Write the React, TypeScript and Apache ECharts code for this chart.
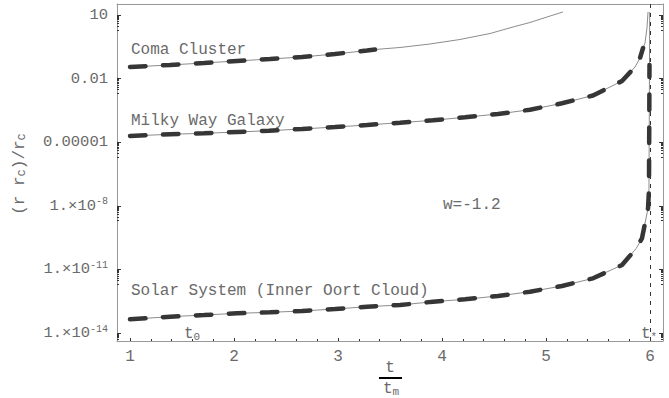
import React, { useEffect, useRef } from 'react';
import * as echarts from 'echarts';

// ---- data ----
const comaX = [1.0, 1.385, 1.712, 2.029, 2.346, 2.654, 2.971, 3.279, 3.356, 3.596, 3.885, 4.173, 4.462, 4.683, 4.846, 5.01, 5.163];
const comaY = [0.0352, 0.0439, 0.0545, 0.0677, 0.0841, 0.1045, 0.1445, 0.211, 0.236, 0.293, 0.429, 0.699, 1.34, 2.72, 4.43, 8.05, 13.9];
const comaDashedCount = 9;

const milkyX = [1.0, 1.385, 1.712, 2.029, 2.337, 2.654, 2.971, 3.279, 3.596, 3.913, 4.221, 4.538, 4.846, 5.154, 5.452, 5.731, 5.856, 5.904, 5.933, 5.952, 5.971, 5.981];
const milkyY = [1.96e-5, 2.36e-5, 2.63e-5, 3.03e-5, 3.48e-5, 4.2e-5, 5.21e-5, 6.48e-5, 8.32e-5, 1.08e-4, 1.5e-4, 2.14e-4, 3.41e-4, 6.84e-4, 1.6e-3, 7.71e-3, 0.0352, 0.0938, 0.277, 0.478, 2.44, 13.9];
const milkyDashedCount = 19;

const solarX = [1.0, 1.385, 1.712, 2.029, 2.346, 2.654, 2.971, 3.279, 3.596, 3.913, 4.221, 4.538, 4.846, 5.154, 5.452, 5.731, 5.868, 5.923, 5.981, 5.99, 5.993, 5.995, 5.997];
const solarY = [4.43e-14, 5.87e-14, 7.06e-14, 8.49e-14, 9.46e-14, 1.09e-13, 1.36e-13, 1.74e-13, 2.09e-13, 2.99e-13, 3.89e-13, 5.56e-13, 8.87e-13, 1.65e-12, 3.8e-12, 1.61e-11, 9.9e-11, 2.93e-10, 7.62e-9, 5.56e-8, 1.11e-4, 0.0439, 13.9];
const solarDashedCount = 22;

const tStar = 6.0;

// ---- axes ----
const xRange = [0.875, 6.125];
const yRange = [4.2e-15, 33];
const xTickValues = [1, 2, 3, 4, 5, 6];
const xTickLabels = ['1', '2', '3', '4', '5', '6'];
const xMinorTicks = [1, 1.2, 1.4, 1.6, 1.8, 2, 2.2, 2.4, 2.6, 2.8, 3, 3.2, 3.4, 3.6, 3.8, 4, 4.2, 4.4, 4.6, 4.8, 5, 5.2, 5.4, 5.6, 5.8, 6];
const yTickValues = [1e-14, 1e-11, 1e-8, 1e-5, 0.01, 10];
const yTickLabels = ['1.×10{sup|-14}', '1.×10{sup|-11}', '1.×10{sup|-8}', '0.00001', '0.01', '10'];
const yMinorMultipliers = [2, 3, 4, 5, 6, 7, 8, 9];

const FONT = "'Liberation Mono', 'DejaVu Sans Mono', monospace";
const TXT = '#6a6a6a';

export default function App() {
  const ref = useRef<HTMLDivElement>(null);
  useEffect(() => {
    const chart = echarts.init(ref.current!, null, { renderer: 'svg' });
    const pairs = (xs: number[], ys: number[], n?: number) =>
      xs.slice(0, n ?? xs.length).map((x, i) => [x, ys[i]]);
    const yMinor = yTickValues.flatMap((v) => yMinorMultipliers.map((m) => (m * v) / 10));
    const thin = (name: string, data: number[][]) => ({
      type: 'line', name, data, symbol: 'none', silent: true, z: 2,
      lineStyle: { color: '#8c8c8c', width: 1 },
    });
    const thick = (name: string, data: number[][]) => ({
      type: 'line', name, data, symbol: 'none', silent: true, z: 3,
      lineStyle: { color: '#363636', width: 4.5, type: [15.5, 17.5], cap: 'round' },
    });
    const yLabel = (v: number) => {
      let best = 0;
      let d = Infinity;
      yTickValues.forEach((t, i) => {
        const dd = Math.abs(Math.log10(v) - Math.log10(t));
        if (dd < d) { d = dd; best = i; }
      });
      return yTickLabels[best];
    };
    const baseY = {
      type: 'log', logBase: 10, min: yRange[0], max: yRange[1],
      splitLine: { show: false }, minorTick: { show: false },
    };
    const baseX = {
      type: 'value', min: xRange[0], max: xRange[1], splitLine: { show: false },
    };
    chart.setOption({
      animation: false,
      grid: { left: 117, top: 4, right: 6, bottom: 57, containLabel: false },
      xAxis: [
        {
          ...baseX, position: 'bottom',
          axisLine: { show: true, onZero: false, lineStyle: { color: '#999', width: 1 } },
          axisTick: { show: true, inside: true, length: 3, customValues: xTickValues, lineStyle: { color: '#333' } },
          axisLabel: {
            customValues: xTickValues, color: TXT, fontFamily: FONT, fontSize: 16, margin: 8,
            formatter: (v: number) => xTickLabels[xTickValues.indexOf(Math.round(v))] ?? '',
          },
        },
        {
          ...baseX, position: 'bottom',
          axisLine: { show: false, onZero: false },
          axisTick: { show: true, inside: true, length: 2, customValues: xMinorTicks, lineStyle: { color: '#333' } },
          axisLabel: { show: false },
        },
        {
          ...baseX, position: 'top',
          axisLine: { show: true, onZero: false, lineStyle: { color: '#999', width: 1 } },
          axisTick: { show: false }, axisLabel: { show: false },
        },
      ],
      yAxis: [
        {
          ...baseY, position: 'left',
          axisLine: { show: true, lineStyle: { color: '#999', width: 1 } },
          axisTick: { show: true, inside: true, length: 4, customValues: yTickValues, lineStyle: { color: '#333' } },
          axisLabel: {
            customValues: yTickValues, color: TXT, fontFamily: FONT, fontSize: 15.5, margin: 9,
            lineHeight: 18, formatter: yLabel,
            rich: { sup: { fontSize: 10, fontFamily: FONT, color: TXT, verticalAlign: 'top', lineHeight: 10 } },
          },
        },
        {
          ...baseY, position: 'left',
          axisLine: { show: false },
          axisTick: { show: true, inside: true, length: 2, customValues: yMinor, lineStyle: { color: '#333' } },
          axisLabel: { show: false },
        },
        {
          ...baseY, position: 'right',
          axisLine: { show: true, lineStyle: { color: '#999', width: 1 } },
          axisTick: { show: true, inside: true, length: 4, customValues: yTickValues, lineStyle: { color: '#333' } },
          axisLabel: { show: false },
        },
        {
          ...baseY, position: 'right',
          axisLine: { show: false },
          axisTick: { show: true, inside: true, length: 2, customValues: yMinor, lineStyle: { color: '#333' } },
          axisLabel: { show: false },
        },
      ],
      series: [
        {
          ...thin('Coma Cluster', pairs(comaX, comaY)),
          markLine: {
            silent: true, symbol: 'none', label: { show: false },
            lineStyle: { color: '#333', width: 1, type: [4, 5] },
            data: [{ xAxis: tStar }],
          },
        },
        thin('Milky Way Galaxy', pairs(milkyX, milkyY)),
        thin('Solar System', pairs(solarX, solarY)),
        thick('Coma Cluster dashed', pairs(comaX, comaY, comaDashedCount)),
        thick('Milky Way Galaxy dashed', pairs(milkyX, milkyY, milkyDashedCount)),
        thick('Solar System dashed', pairs(solarX, solarY, solarDashedCount)),
      ],
      graphic: [
        { type: 'text', x: 131, y: 50, style: { text: 'Coma Cluster', fontFamily: FONT, fontSize: 16, fill: TXT, verticalAlign: 'middle' } },
        { type: 'text', x: 131, y: 121, style: { text: 'Milky Way Galaxy', fontFamily: FONT, fontSize: 16, fill: TXT, verticalAlign: 'middle' } },
        { type: 'text', x: 131, y: 291, style: { text: 'Solar System (Inner Oort Cloud)', fontFamily: FONT, fontSize: 16, fill: TXT, verticalAlign: 'middle' } },
        { type: 'text', x: 443, y: 205, style: { text: 'w=-1.2', fontFamily: FONT, fontSize: 16, fill: TXT, verticalAlign: 'middle' } },
        {
          type: 'text', x: 184, y: 334,
          style: { text: 't{s|0}', fontFamily: FONT, fontSize: 16, fill: TXT, verticalAlign: 'middle', rich: { s: { fontSize: 11, fontFamily: FONT, fill: TXT, verticalAlign: 'bottom' } } },
        },
        {
          type: 'text', x: 641, y: 334,
          style: { text: 't{s|*}', fontFamily: FONT, fontSize: 16, fill: TXT, verticalAlign: 'middle', rich: { s: { fontSize: 11, fontFamily: FONT, fill: TXT, verticalAlign: 'bottom' } } },
        },
        {
          type: 'text', x: 20, y: 174, rotation: Math.PI / 2,
          style: { text: '(r r{s|c})/r{s|c}', fontFamily: FONT, fontSize: 16, fill: TXT, align: 'center', verticalAlign: 'middle', rich: { s: { fontSize: 12, fontFamily: FONT, fill: TXT, verticalAlign: 'bottom' } } },
        },
        { type: 'text', x: 390, y: 368, style: { text: 't', fontFamily: FONT, fontSize: 16, fill: TXT, align: 'center', verticalAlign: 'middle' } },
        { type: 'line', shape: { x1: 379, y1: 378, x2: 402, y2: 378 }, style: { stroke: '#000', lineWidth: 2 } },
        {
          type: 'text', x: 391, y: 389,
          style: { text: 't{s|m}', fontFamily: FONT, fontSize: 16, fill: TXT, align: 'center', verticalAlign: 'middle', rich: { s: { fontSize: 11, fontFamily: FONT, fill: TXT, verticalAlign: 'bottom' } } },
        },
      ],
    });
    return () => chart.dispose();
  }, []);
  return <div ref={ref} style={{ position: 'absolute', left: 0, top: 0, width: 669, height: 398 }} />;
}
